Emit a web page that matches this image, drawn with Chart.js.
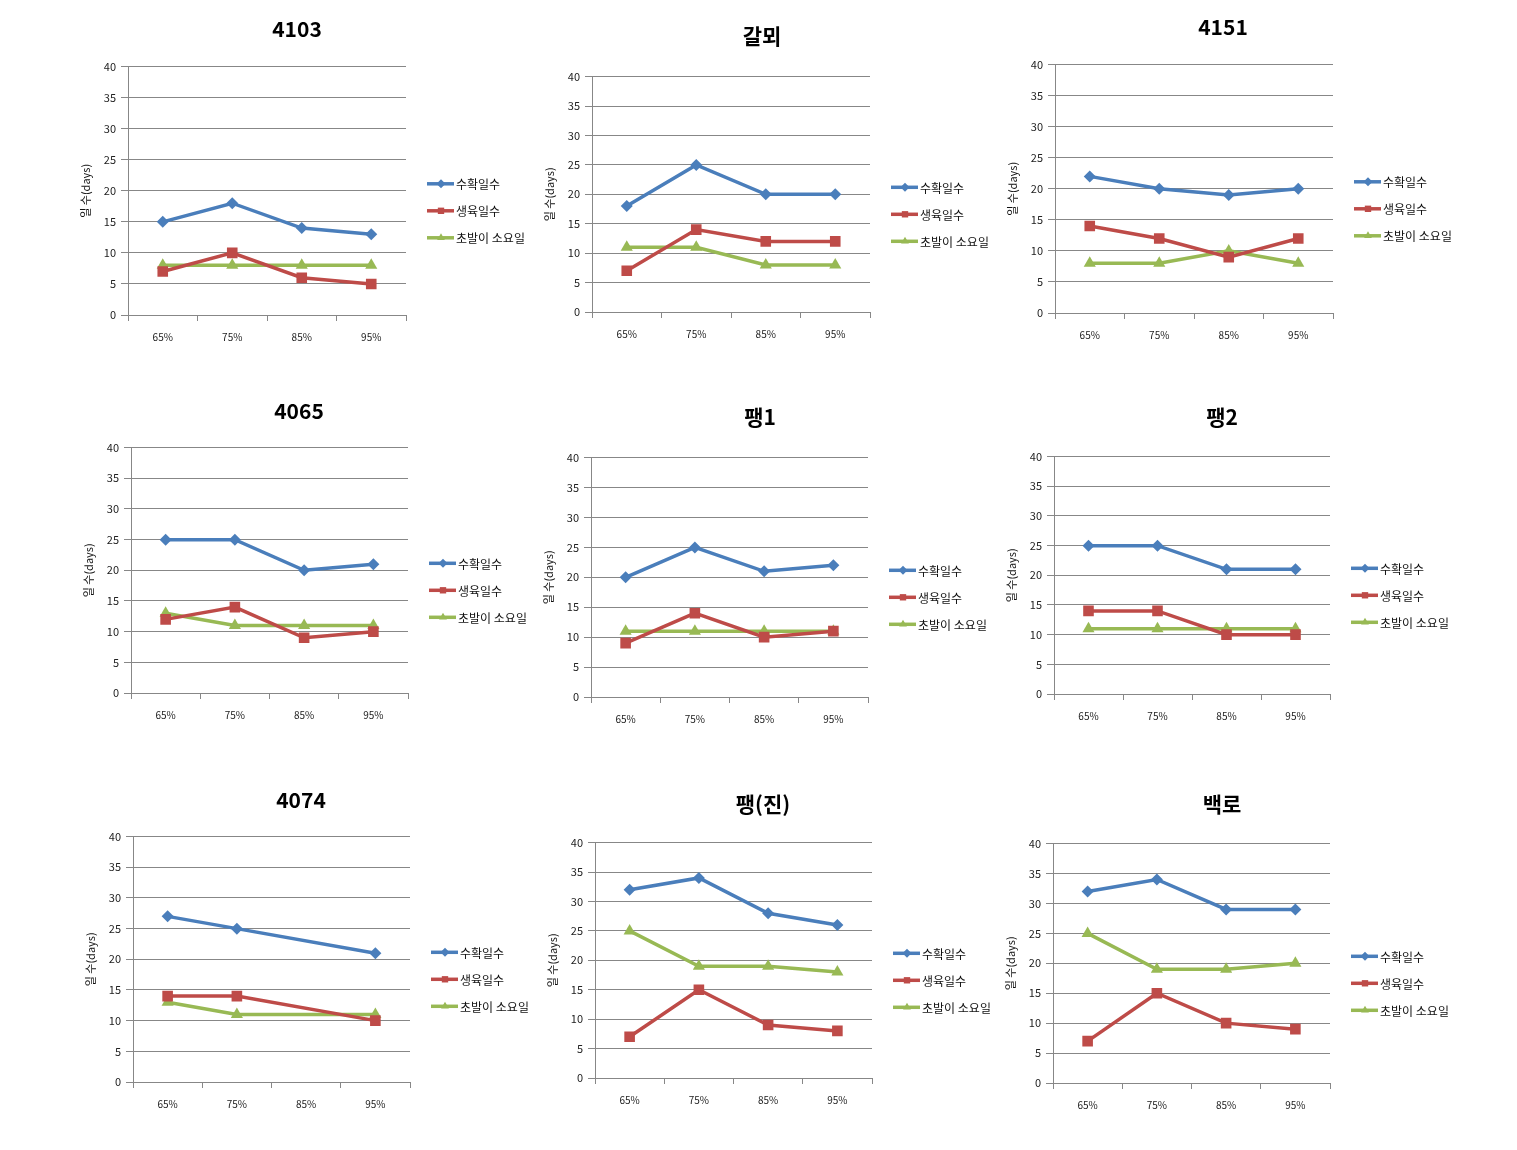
<!DOCTYPE html>
<html>
<head>
<meta charset="utf-8">
<script src="https://cdn.jsdelivr.net/npm/chart.js@4.4.1/dist/chart.umd.min.js"></script>
<style>
    body { margin: 0; background: #fff; width: 1517px; height: 1150px; position: relative; overflow: hidden; }
    .panel { position: absolute; }
</style>
</head>
<body>
<script>
const categories = ['65%', '75%', '85%', '95%'];
const seriesNames = ['수확일수', '생육일수', '초발이 소요일'];
const yTickValues = [0, 5, 10, 15, 20, 25, 30, 35, 40];
const chartTitles = ['4103', '갈뫼', '4151', '4065', '팽1', '팽2', '4074', '팽(진)', '백로'];

// 수확일수
const harvestDays = [
    [15, 18, 14, 13],
    [18, 25, 20, 20],
    [22, 20, 19, 20],
    [25, 25, 20, 21],
    [20, 25, 21, 22],
    [25, 25, 21, 21],
    [27, 25, null, 21],
    [32, 34, 28, 26],
    [32, 34, 29, 29],
];
// 생육일수
const growthDays = [
    [7, 10, 6, 5],
    [7, 14, 12, 12],
    [14, 12, 9, 12],
    [12, 14, 9, 10],
    [9, 14, 10, 11],
    [14, 14, 10, 10],
    [14, 14, null, 10],
    [7, 15, 9, 8],
    [7, 15, 10, 9],
];
// 초발이 소요일
const sproutDays = [
    [8, 8, 8, 8],
    [11, 11, 8, 8],
    [8, 8, 10, 8],
    [13, 11, 11, 11],
    [11, 11, 11, 11],
    [11, 11, 11, 11],
    [13, 11, null, 11],
    [25, 19, 19, 18],
    [25, 19, 19, 20],
];

// plot boxes of each panel on the page (title centre, plot edges)
const panels = [
    {tx: 297, ty: 28, l: 128, r: 406, t: 66, b: 315},
    {tx: 762, ty: 35, l: 592, r: 870, t: 76, b: 312},
    {tx: 1223, ty: 26, l: 1055, r: 1333, t: 64, b: 313},
    {tx: 299, ty: 410, l: 131, r: 408, t: 447, b: 693},
    {tx: 760, ty: 416, l: 591, r: 868, t: 457, b: 697},
    {tx: 1222, ty: 416, l: 1054, r: 1330, t: 456, b: 694},
    {tx: 301, ty: 799, l: 133, r: 410, t: 836, b: 1082},
    {tx: 763, ty: 803, l: 595, r: 872, t: 842, b: 1078},
    {tx: 1222, ty: 803, l: 1053, r: 1330, t: 843, b: 1083},
];

const FONT = '"Noto Sans CJK KR", "Noto Sans", sans-serif';
const colors = ['#4A7EBB', '#BE4B48', '#98B954'];
const pointStyles = ['rectRot', 'rect', 'triangle'];
const pointRadii = [6, 7.5, 7];
const gridColor = '#878787';
const Y_AXIS_W = 70;
const X_AXIS_H = 45;

const sideLegend = {
    id: 'sideLegend',
    afterDraw(chart) {
        const {ctx, chartArea} = chart;
        const x0 = chartArea.right + 21;
        const midY = (chartArea.top + chartArea.bottom) / 2 + 20;
        ctx.save();
        chart.data.datasets.forEach((ds, i) => {
            const y = midY + (i - 1) * 27;
            ctx.strokeStyle = ds.borderColor;
            ctx.lineWidth = 3.5;
            ctx.beginPath();
            ctx.moveTo(x0, y);
            ctx.lineTo(x0 + 27, y);
            ctx.stroke();
            ctx.fillStyle = ds.backgroundColor;
            Chart.helpers.drawPoint(ctx, {pointStyle: ds.pointStyle, radius: 4.5, borderWidth: 0, rotation: 0}, x0 + 14, y);
            ctx.fillStyle = '#111';
            ctx.font = '12px ' + FONT;
            ctx.textBaseline = 'middle';
            ctx.textAlign = 'left';
            ctx.fillText(ds.label, x0 + 29, y + 1);
        });
        ctx.restore();
    }
};

const seriesData = [harvestDays, growthDays, sproutDays];

panels.forEach((p, idx) => {
    const left = p.l - Y_AXIS_W;
    const right = 2 * p.tx - left;
    const legendW = right - p.r;
    const top = p.ty - 12;
    const height = p.b + X_AXIS_H - top;

    const box = document.createElement('div');
    box.className = 'panel';
    box.style.left = left + 'px';
    box.style.top = top + 'px';
    box.style.width = (right - left) + 'px';
    box.style.height = height + 'px';
    const canvas = document.createElement('canvas');
    box.appendChild(canvas);
    document.body.appendChild(box);

    const datasets = seriesNames.map((name, s) => ({
        label: name,
        data: seriesData[s][idx],
        borderColor: colors[s],
        backgroundColor: colors[s],
        borderWidth: 3.5,
        pointStyle: pointStyles[s],
        pointRadius: pointRadii[s],
        pointBorderWidth: 0,
        tension: 0,
        spanGaps: true,
    }));

    new Chart(canvas, {
        type: 'line',
        data: {labels: categories, datasets: datasets},
        plugins: [sideLegend],
        options: {
            responsive: true,
            maintainAspectRatio: false,
            animation: false,
            events: [],
            layout: {padding: 0},
            plugins: {
                legend: {display: false},
                tooltip: {enabled: false},
                title: {
                    display: true,
                    text: chartTitles[idx],
                    color: '#000',
                    font: {family: FONT, size: 21, weight: 'bold', lineHeight: 1.2},
                    padding: {top: 0, bottom: p.t - p.ty - 12.6},
                },
            },
            scales: {
                x: {
                    offset: true,
                    grid: {offset: true, drawOnChartArea: false, drawTicks: true, tickLength: 6, color: gridColor},
                    border: {color: gridColor},
                    ticks: {font: {family: FONT, size: 10}, color: '#222', padding: 10, maxRotation: 0},
                    afterFit(scale) { scale.height = X_AXIS_H; },
                },
                y: {
                    min: 0,
                    max: 40,
                    afterBuildTicks(scale) { scale.ticks = yTickValues.map(v => ({value: v})); },
                    grid: {color: gridColor, tickLength: 7},
                    border: {color: gridColor},
                    ticks: {font: {family: FONT, size: 11}, color: '#222', padding: 5},
                    title: {
                        display: true,
                        text: '일 수(days)',
                        color: '#111',
                        font: {family: FONT, size: 11},
                        padding: {top: 21, bottom: 0},
                    },
                    afterFit(scale) { scale.width = Y_AXIS_W; },
                },
                legendSpace: {
                    type: 'linear',
                    position: 'right',
                    display: true,
                    grid: {display: false, drawTicks: false},
                    border: {display: false},
                    ticks: {display: false},
                    afterFit(scale) { scale.width = legendW; },
                },
            },
        },
    });
});
</script>
</body>
</html>
